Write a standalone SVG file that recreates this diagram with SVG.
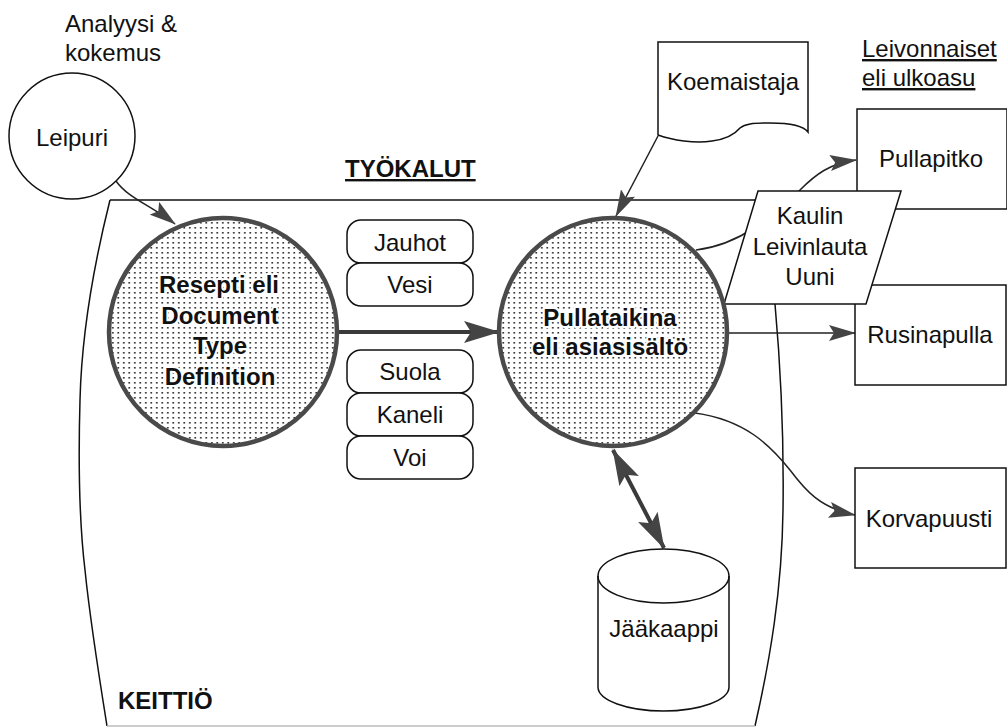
<svg xmlns="http://www.w3.org/2000/svg" width="1007" height="727" viewBox="0 0 1007 727">
<style>
text{font-family:"Liberation Sans",Arial,sans-serif;font-size:24px;fill:#111}
.c{text-anchor:middle}
.b{font-weight:bold}
.u{text-decoration:underline}
.halo{stroke:#fff;stroke-width:4px;paint-order:stroke;stroke-linejoin:round}
.thin{fill:none;stroke:#111;stroke-width:1.5}
.box{fill:#fff;stroke:#111;stroke-width:1.5}
.big{fill:url(#dots);stroke:#4a4a4a;stroke-width:4.5}
.con{fill:none;stroke:#222;stroke-width:1.5}
.thick{fill:none;stroke:#3a3a3a;stroke-width:4}
</style>
<defs>
<pattern id="dots" width="5.5" height="5" patternUnits="userSpaceOnUse">
<rect width="5.5" height="5" fill="#fff"/>
<rect x="2" y="2" width="1.6" height="1.6" fill="#222"/>
</pattern>
<marker id="a" markerUnits="userSpaceOnUse" markerWidth="27" markerHeight="16" refX="26" refY="8" orient="auto">
<path d="M0,0 L27,8 L0,16 L5,8 z" fill="#444"/>
</marker>
<marker id="A" markerUnits="userSpaceOnUse" markerWidth="36" markerHeight="22" refX="35" refY="11" orient="auto-start-reverse">
<path d="M0,0 L36,11 L0,22 L7,11 z" fill="#444"/>
</marker>
</defs>
<rect width="1007" height="727" fill="#fff"/>

<g id="keittio">
<path class="thin" d="M110,200 L775,200 L775,304 C780,360 784,440 783,510 C782,590 770,660 755,726"/>
<path class="thin" d="M110,200 C100,240 82,320 80,400 C78,470 79,520 85,570 C90,620 98,670 107,726"/>
<line x1="107" y1="726" x2="755" y2="726" stroke="#bbb" stroke-width="1.5"/>
<text x="118" y="709" class="b">KEITTIÖ</text>
</g>

<g id="labels">
<text x="65" y="32">Analyysi &amp;</text>
<text x="65" y="61">kokemus</text>
<text x="345" y="177" class="b u">TYÖKALUT</text>
<text x="862" y="57" class="u">Leivonnaiset</text>
<text x="862" y="86" class="u">eli ulkoasu</text>
</g>

<g id="connectors">
<path class="con" d="M116,181 C128,198 150,205 175,224" marker-end="url(#a)"/>
<path class="con" d="M658,136 L616,216" marker-end="url(#a)"/>
<line class="thick" x1="338" y1="332" x2="499" y2="332" marker-end="url(#A)"/>
<path class="con" d="M696,250 C740,245 775,215 800,190 C815,175 830,163 856,160" marker-end="url(#a)"/>
<line class="con" x1="727" y1="333" x2="855" y2="333" marker-end="url(#a)"/>
<path class="con" d="M695,413 C745,420 770,445 790,470 C805,490 820,508 855,515" marker-end="url(#a)"/>
<line class="thick" x1="613" y1="450" x2="664" y2="548" marker-start="url(#A)" marker-end="url(#A)"/>
</g>

<g id="leipuri">
<circle class="box" cx="72" cy="136" r="63"/>
<text x="72" y="146" class="c">Leipuri</text>
</g>

<g id="koemaistaja">
<path class="box" d="M658,42 H808 V132 C803,125 790,123 770,123 C752,123 745,124 740,128 C735,134 728,139 712,141 C695,144 672,140 658,135 Z"/>
<text x="733" y="90" class="c">Koemaistaja</text>
</g>

<g id="pullapitko">
<rect class="box" x="857" y="109" width="150" height="100"/>
<text x="931" y="167" class="c">Pullapitko</text>
</g>

<g id="rusinapulla">
<rect class="box" x="855" y="285" width="151" height="100"/>
<text x="930" y="343" class="c">Rusinapulla</text>
</g>

<g id="korvapuusti">
<rect class="box" x="855" y="468" width="151" height="100"/>
<text x="929" y="527" class="c">Korvapuusti</text>
</g>

<g id="tyokalut">
<path class="box" d="M758,191 L901,191 L866,304 L724,304 Z"/>
<text x="810" y="224" class="c">Kaulin</text>
<text x="810" y="255" class="c">Leivinlauta</text>
<text x="810" y="285" class="c">Uuni</text>
</g>

<g id="resepti">
<circle class="big" cx="223" cy="332" r="114"/>
<text x="219" y="293" class="c b halo">Resepti eli</text>
<text x="220" y="324" class="c b halo">Document</text>
<text x="220" y="354" class="c b halo">Type</text>
<text x="220" y="385" class="c b halo">Definition</text>
</g>

<g id="pullataikina">
<circle class="big" cx="613" cy="332" r="114"/>
<text x="610" y="326" class="c b halo">Pullataikina</text>
<text x="610" y="355" class="c b halo">eli asiasisältö</text>
</g>

<g id="ainekset">
<rect class="box" x="347" y="220" width="126" height="43" rx="14"/>
<text x="410" y="251" class="c">Jauhot</text>
<rect class="box" x="347" y="263" width="126" height="43" rx="14"/>
<text x="410" y="293" class="c">Vesi</text>
<rect class="box" x="347" y="350" width="126" height="43" rx="14"/>
<text x="410" y="380" class="c">Suola</text>
<rect class="box" x="347" y="393" width="126" height="43" rx="14"/>
<text x="410" y="423" class="c">Kaneli</text>
<rect class="box" x="347" y="436" width="126" height="43" rx="14"/>
<text x="410" y="466" class="c">Voi</text>
</g>

<g id="jaakaappi">
<path class="box" d="M598,576 A65.5,27 0 0 1 729,576 L729,687 A65.5,24 0 0 1 598,687 Z"/>
<path class="thin" d="M598,576 A65.5,27 0 0 0 729,576"/>
<text x="664" y="637" class="c">Jääkaappi</text>
</g>
</svg>
